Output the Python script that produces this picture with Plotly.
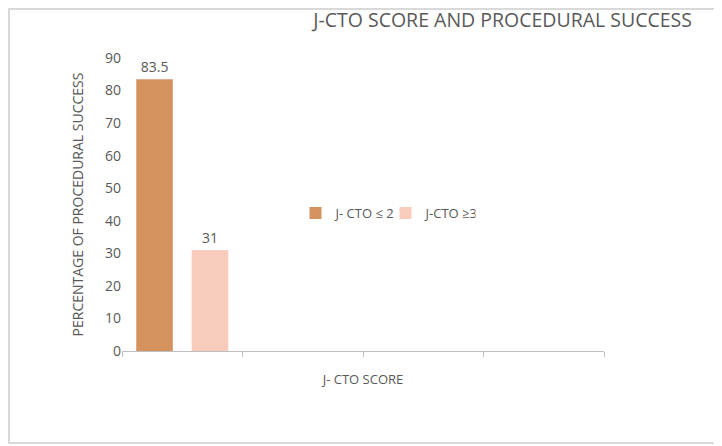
import plotly.graph_objects as go

# data
series_names = ["J- CTO \u2264 2", "J-CTO \u22653"]
success_pct = [83.5, 31]
bar_colors = ["#D4925F", "#F8CBBD"]
category_pos = [0]

grey = "#595959"
# the page body adds an 8px margin, so the figure is 8px smaller on each side
W, H = 714, 438
L, R, T, B = 114, 118, 50, 95
pw, ph = W - L - R, H - T - B

fig = go.Figure()
for name, val, col in zip(series_names, success_pct, bar_colors):
    fig.add_trace(go.Bar(
        x=category_pos, y=[val], name=name,
        marker=dict(color=col, line=dict(width=0)),
        text=[f"{val:g}"], textposition="outside",
        textfont=dict(size=14, color=grey),
        cliponaxis=False,
    ))

# outer chart border (figure pixels -> paper fractions)
fig.add_shape(type="rect", xref="paper", yref="paper",
              x0=(1 - L) / pw, x1=(W - 3 - L) / pw,
              y0=(3 - B) / ph, y1=(H - B - 1) / ph,
              line=dict(color="#D9D9D9", width=2), layer="below")

fig.update_layout(
    width=W, height=H,
    margin=dict(l=L, r=R, t=T, b=B, autoexpand=False),
    paper_bgcolor="white", plot_bgcolor="white",
    font=dict(family="Open Sans, Lato, sans-serif", color=grey),
    barmode="group", bargap=0.08, bargroupgap=0.34,
    title=dict(text="J-CTO SCORE AND PROCEDURAL SUCCESS",
               x=(692 - 8) / W, xanchor="right", xref="container",
               y=1 - 12 / H, yanchor="middle", yref="container",
               font=dict(size=19.5, color=grey)),
    legend=dict(orientation="h", x=0.36, y=0.471, xanchor="left", yanchor="middle",
                font=dict(size=13, color=grey), itemwidth=30, entrywidth=45,
                tracegroupgap=0, traceorder="normal", bgcolor="rgba(0,0,0,0)"),
    xaxis=dict(range=[-0.5, 3.5], tickvals=[-0.5, 0.5, 1.5, 2.5, 3.5],
               showticklabels=False, ticks="outside", ticklen=5,
               tickcolor="#BFBFBF", showline=True, linecolor="#BFBFBF",
               linewidth=1, showgrid=False, zeroline=False,
               title=dict(text="J- CTO SCORE", font=dict(size=13, color=grey),
                          standoff=18)),
    yaxis=dict(range=[0, 90], dtick=10, showgrid=False, zeroline=False,
               showline=False, ticks="", tickfont=dict(size=14, color=grey),
               title=dict(text="PERCENTAGE OF PROCEDURAL SUCCESS",
                          font=dict(size=14, color=grey), standoff=18)),
)

fig.write_html("out.html")
